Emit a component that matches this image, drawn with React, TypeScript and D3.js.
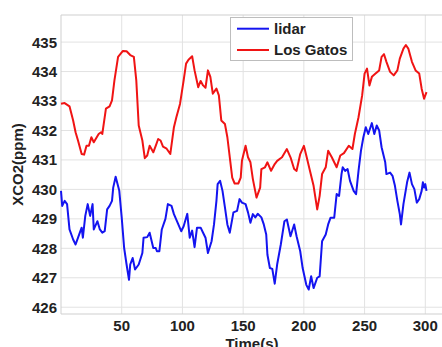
import React from 'react';
import * as d3 from 'd3';

// Los Gatos (red) series
const gatosTime = [0, 3, 7, 10, 12, 14, 17, 19, 21, 23, 25, 27, 31, 33, 34, 37, 40, 42, 44, 47, 51, 54, 57, 60, 62, 64, 67, 69, 71, 73, 76, 78, 80, 82, 84, 87, 90, 93, 95, 98, 101, 103, 105, 108, 110, 113, 115, 117, 119, 121, 123, 125, 128, 130, 132, 135, 137, 139, 141, 143, 146, 148, 149, 152, 154, 156, 158, 161, 164, 165, 168, 170, 173, 176, 178, 182, 186, 189, 192, 194, 197, 200, 202, 205, 208, 211, 213, 215, 218, 220, 223, 225, 227, 230, 233, 237, 240, 242, 245, 248, 250, 252, 254, 256, 259, 262, 264, 266, 268, 271, 274, 277, 279, 282, 284, 286, 289, 292, 295, 297, 299, 301];
const gatosValue = [432.91, 432.93, 432.82, 432.34, 431.94, 431.66, 431.2, 431.18, 431.48, 431.48, 431.77, 431.6, 431.88, 431.94, 431.88, 432.74, 432.82, 433.02, 433.7, 434.5, 434.7, 434.69, 434.56, 434.5, 433.7, 432.17, 431.66, 431.06, 431.15, 431.48, 431.26, 431.48, 431.71, 431.66, 431.45, 431.38, 431.2, 432.11, 432.45, 432.9, 433.7, 434.27, 434.4, 434.52, 434.04, 433.47, 433.68, 433.53, 433.45, 434.04, 433.82, 433.25, 433.42, 433.19, 432.34, 432.22, 431.77, 431.09, 430.4, 430.2, 430.2, 430.4, 430.97, 431.48, 431.09, 430.92, 430.35, 429.72, 430.06, 430.69, 430.75, 430.92, 430.63, 430.86, 430.97, 431.09, 431.37, 431.09, 430.69, 430.63, 431.2, 431.48, 431.15, 430.63, 430.12, 429.32, 429.78, 430.52, 430.75, 431.31, 431.09, 430.92, 430.75, 431.15, 431.23, 431.48, 431.37, 431.88, 432.45, 433.19, 433.93, 434.1, 433.53, 433.82, 433.93, 434.04, 434.5, 434.59, 434.33, 433.99, 433.87, 434.04, 434.44, 434.78, 434.9, 434.78, 434.33, 434.04, 433.93, 433.42, 433.08, 433.3];

// lidar (blue) series
const lidarTime = [0, 1, 3, 5, 7, 10, 12, 15, 17, 18, 20, 22, 24, 26, 27, 30, 32, 34, 36, 38, 40, 42, 43, 45, 48, 50, 52, 54, 56, 57, 59, 61, 64, 67, 68, 71, 73, 76, 78, 79, 81, 83, 86, 88, 91, 93, 96, 99, 101, 104, 106, 108, 110, 112, 115, 117, 119, 121, 124, 126, 128, 129, 131, 133, 135, 137, 139, 142, 145, 147, 149, 152, 154, 156, 158, 160, 162, 165, 167, 169, 170, 172, 174, 176, 178, 181, 184, 186, 189, 192, 194, 197, 199, 202, 204, 206, 208, 211, 213, 215, 218, 220, 222, 225, 227, 229, 231, 232, 234, 236, 238, 241, 243, 245, 247, 249, 251, 253, 256, 258, 260, 262, 264, 267, 268, 271, 273, 275, 277, 279, 280, 282, 285, 287, 289, 291, 293, 295, 297, 298, 299, 300, 301];
const lidarValue = [429.95, 429.44, 429.61, 429.5, 428.64, 428.3, 428.13, 428.47, 428.7, 428.36, 429.1, 429.5, 429.1, 429.5, 428.64, 428.92, 428.64, 428.53, 428.58, 429.32, 429.44, 429.61, 430.06, 430.43, 429.95, 429.04, 428.01, 427.45, 426.93, 427.45, 427.67, 427.28, 427.45, 427.84, 428.36, 428.38, 428.53, 428.01, 428.01, 427.9, 427.9, 428.64, 429.0, 429.5, 429.44, 429.16, 428.87, 428.58, 428.75, 429.17, 428.36, 428.6, 428.04, 428.7, 428.7, 428.53, 428.36, 427.84, 428.24, 428.81, 429.61, 430.18, 430.29, 429.95, 429.39, 428.81, 428.53, 429.22, 429.27, 429.67, 429.55, 429.5, 429.22, 428.87, 429.16, 429.05, 429.17, 429.05, 428.81, 428.47, 427.78, 427.33, 427.3, 426.8, 427.45, 428.13, 428.92, 428.98, 428.41, 428.81, 428.41, 427.9, 427.33, 426.76, 426.6, 427.05, 426.65, 427.0, 427.05, 428.24, 428.47, 428.81, 429.04, 429.04, 429.84, 429.78, 430.52, 430.75, 430.63, 430.69, 430.29, 429.95, 429.84, 430.63, 431.31, 431.77, 432.11, 431.88, 432.25, 431.88, 432.17, 432.0, 431.43, 430.92, 430.52, 430.57, 430.46, 430.12, 429.61, 429.16, 428.81, 429.5, 430.24, 430.57, 430.18, 430.01, 429.55, 429.67, 429.95, 430.24, 430.06, 430.18, 429.95];

const xTicks = [50, 100, 150, 200, 250, 300];
const yTicks = [426, 427, 428, 429, 430, 431, 432, 433, 434, 435];
const seriesNames = ['lidar', 'Los Gatos'];
const seriesColors = ['#1414f0', '#f01414'];

const W = 442;
const H = 347;
const left = 61;
const top = 15;
const bottom = 314;
const font = '"Liberation Sans", Arial, sans-serif';

export default function App() {
  const x = d3.scaleLinear().domain([0, 314]).range([left, left + 314 * (364.3 / 300)]);
  const y = d3.scaleLinear().domain([425.77, 435.92]).range([bottom, top]);

  const line = d3.line<[number, number]>()
    .x(d => x(d[0]))
    .y(d => y(d[1]));

  const lidarPts = lidarTime.map((t, i) => [t, lidarValue[i]] as [number, number]);
  const gatosPts = gatosTime.map((t, i) => [t, gatosValue[i]] as [number, number]);

  const right = W + 2;

  return (
    <svg width={W} height={H} style={{ position: 'absolute', left: 0, top: 0, background: '#fff' }}
      fontFamily={font} fontWeight="bold" fontSize={15}>
      {/* grid */}
      {xTicks.map(t => (
        <line key={'gx' + t} x1={x(t)} x2={x(t)} y1={top} y2={bottom} stroke="#e2e2e2" strokeWidth={1} />
      ))}
      {yTicks.map(t => (
        <line key={'gy' + t} x1={left} x2={right} y1={y(t)} y2={y(t)} stroke="#e2e2e2" strokeWidth={1} />
      ))}
      {/* frame */}
      <line x1={left} x2={right} y1={top} y2={top} stroke="#cfcfcf" />
      <line x1={left} x2={right} y1={bottom} y2={bottom} stroke="#cfcfcf" />
      <line x1={left} x2={left} y1={top} y2={bottom} stroke="#cfcfcf" />

      {/* series */}
      <path d={line(gatosPts) ?? ''} fill="none" stroke={seriesColors[1]} strokeWidth={2} strokeLinejoin="round" />
      <path d={line(lidarPts) ?? ''} fill="none" stroke={seriesColors[0]} strokeWidth={2} strokeLinejoin="round" />

      {/* tick labels */}
      {yTicks.map(t => (
        <text key={'ly' + t} x={57} y={y(t)} dy="0.36em" textAnchor="end" fill="#222">{t}</text>
      ))}
      {xTicks.map(t => (
        <text key={'lx' + t} x={x(t)} y={330.5} textAnchor="middle" fill="#222">{t}</text>
      ))}
      <text x={252} y={348.5} textAnchor="middle" fill="#222">Time(s)</text>
      <text transform={`translate(23,${(top + bottom) / 2}) rotate(-90)`} textAnchor="middle" fill="#222">XCO2(ppm)</text>

      {/* legend */}
      <rect x={230.5} y={17.5} width={122} height={43} fill="#fff" stroke="#bdbdbd" />
      {seriesNames.map((n, i) => (
        <g key={n} transform={`translate(0,${28.7 + i * 21.3})`}>
          <line x1={237} x2={269} y1={0} y2={0} stroke={seriesColors[i]} strokeWidth={2} />
          <text x={274} y={0} dy="0.36em" fill="#222">{n}</text>
        </g>
      ))}
    </svg>
  );
}
